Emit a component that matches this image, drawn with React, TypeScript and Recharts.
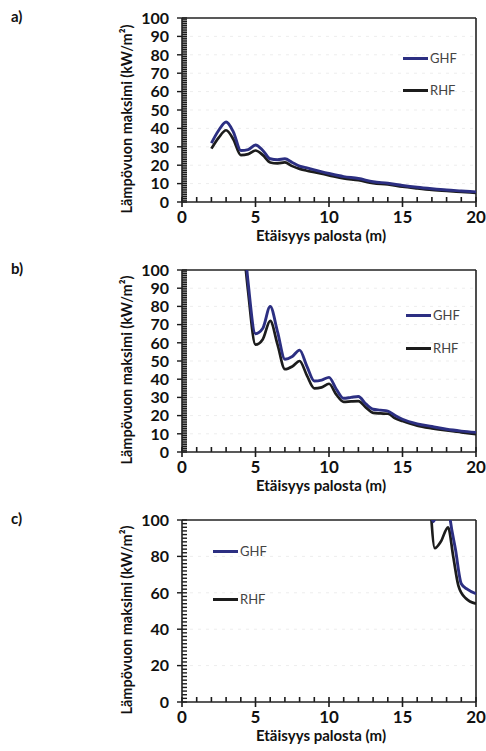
import React from "react";
import { LineChart, Line, XAxis, YAxis, ReferenceLine, Legend, Label } from "recharts";

// distances (m) and peak heat flux (kW/m²) per case
const distA = [2, 2.5, 3, 3.5, 4, 4.5, 5, 5.5, 6, 6.5, 7, 7.5, 8, 8.5, 9, 10, 11, 12, 13, 14, 15, 16, 17, 18, 19, 20];
const ghfA = [32, 39, 43.5, 38, 28, 28.5, 31, 28, 23.5, 23, 23.5, 21.5, 19.5, 18.5, 17.5, 15.5, 13.8, 12.8, 11, 10.2, 9, 8, 7.2, 6.5, 6, 5.5];
const rhfA = [29, 35, 39, 34, 25.5, 26, 28, 25.5, 21.5, 21, 21.5, 19.5, 18, 17, 16.2, 14.5, 12.8, 11.8, 10.2, 9.5, 8.3, 7.4, 6.6, 6, 5.5, 5];

const distB = [4, 4.5, 5, 5.5, 6, 6.5, 7, 7.5, 8, 8.5, 9, 9.5, 10, 10.5, 11, 11.5, 12, 12.5, 13, 13.5, 14, 14.5, 15, 16, 17, 18, 19, 20];
const ghfB = [140, 93, 65, 68, 80, 66, 51, 52.5, 56, 47, 39, 39.5, 41, 34.5, 29.5, 30, 30.5, 26.5, 23.5, 23, 22.5, 20, 18, 15.5, 14, 12.5, 11.5, 10.8];
const rhfB = [130, 88, 59, 62, 72, 59, 45.5, 47, 50, 42, 35, 35.5, 37.5, 31.5, 27.5, 27.8, 28, 24.5, 21.5, 21.2, 21, 18.5, 17, 14.5, 13, 11.8, 10.8, 9.8];

const distGhfC = [16.9, 17.1, 17.3, 17.6, 18, 18.25, 18.6, 19, 19.4, 20];
const ghfC = [104, 99, 103, 115, 118, 100, 84, 65, 62, 59.5];
const distRhfC = [16.9, 17.2, 17.6, 18.1, 18.45, 18.8, 19.3, 20];
const rhfC = [108, 84.5, 88, 96, 80, 64, 57, 54];

const xMajor = [0, 5, 10, 15, 20];
const xTicks = Array.from({ length: 21 }, (_, i) => i);
const yMajorAB = [0, 10, 20, 30, 40, 50, 60, 70, 80, 90, 100];
const yTicksAB = Array.from({ length: 101 }, (_, i) => i);
const yMajorC = [0, 20, 40, 60, 80, 100];
const yTicksC = Array.from({ length: 51 }, (_, i) => i * 2);

const GHF_COLOR = "#2c2f82";
const RHF_COLOR = "#1c1c1c";
const AXIS = "#222";
const FONT = "Lato, 'Open Sans', sans-serif";

const pts = (xs: number[], ys: number[]) => xs.map((x, i) => ({ x, y: ys[i] }));

const makeYTick = (majors: number[]) => (props: any) => {
  const { x, y, payload } = props;
  if (!majors.includes(payload.value)) return <g />;
  return (
    <text x={x} y={y} dy="0.36em" textAnchor="end" fontFamily={FONT} fontWeight={700} fontSize={16} fill="#111">
      {payload.value}
    </text>
  );
};

const renderXTick = (props: any) => {
  const { x, y, payload } = props;
  if (!xMajor.includes(payload.value)) return <g />;
  return (
    <text x={x} y={y} dy="0.36em" textAnchor="middle" fontFamily={FONT} fontWeight={700} fontSize={17} fill="#111">
      {payload.value}
    </text>
  );
};

// short tick marks drawn on reference lines placed through the axis scales
const yTickShape = (major: boolean) => (p: any) => {
  const x0 = Math.min(Number(p.x1), Number(p.x2));
  const y0 = Number(p.y1);
  return <rect x={major ? x0 - 5 : x0} y={y0 - 0.7} width={major ? 10 : 5} height={1.4} fill="#1a1a1a" />;
};
const xTickShape = (major: boolean) => (p: any) => {
  const x0 = Number(p.x1);
  const yb = Math.max(Number(p.y1), Number(p.y2));
  return <rect x={x0 - 0.8} y={yb - 5} width={1.6} height={major ? 10 : 5} fill="#1a1a1a" />;
};

const legendContent = (gap: number) => (props: any) => (
  <div style={{ display: "flex", flexDirection: "column", gap }}>
    {(props.payload || []).map((p: any) => (
      <div key={p.value} style={{ display: "flex", alignItems: "center", height: 16 }}>
        <span style={{ display: "inline-block", width: 25, height: 3, background: p.color }} />
        <span style={{ fontFamily: FONT, fontSize: 13, color: "#444", marginLeft: 2 }}>{p.value}</span>
      </div>
    ))}
  </div>
);

type PanelProps = {
  top: number;
  tag: string;
  plotH: number;
  ghf: { x: number; y: number }[];
  rhf: { x: number; y: number }[];
  yTicks: number[];
  yMajor: number[];
  legend: { left: number; top: number; gap: number };
};

const Panel = ({ top, tag, plotH, ghf, rhf, yTicks, yMajor, legend }: PanelProps) => {
  const H = 250;
  const xAxisH = H - 18 - plotH;
  return (
    <div style={{ position: "absolute", left: 0, top, width: 486, height: H }}>
      <div style={{ position: "absolute", left: 11, top: 7, fontFamily: FONT, fontWeight: 700, fontSize: 15, color: "#111" }}>
        {tag}
      </div>
      <LineChart width={486} height={H} margin={{ top: 18, right: 10, bottom: 0, left: 0 }}>
        {yMajor.slice(1, -1).map((v) => (
          <ReferenceLine key={`g${v}`} y={v} stroke="#ededed" strokeDasharray="3 5" />
        ))}
        <XAxis
          type="number"
          dataKey="x"
          domain={[0, 20]}
          ticks={xTicks}
          interval={0}
          allowDataOverflow
          tickSize={0}
          tickMargin={15}
          tick={renderXTick}
          height={xAxisH}
          axisLine={{ stroke: AXIS, strokeWidth: 1.6 }}
        >
          <Label
            content={(p: any) => {
              const vb = p.viewBox;
              return (
                <text x={vb.x + vb.width / 2 - 8} y={vb.y + 34} dy="0.36em" textAnchor="middle" fontFamily={FONT} fontWeight={700} fontSize={15} fill="#111">
                  Etäisyys palosta (m)
                </text>
              );
            }}
          />
        </XAxis>
        <YAxis
          type="number"
          domain={[0, 100]}
          ticks={yTicks}
          interval={0}
          allowDataOverflow
          tickSize={0}
          tickMargin={13}
          tick={makeYTick(yMajor)}
          width={182}
          axisLine={{ stroke: AXIS, strokeWidth: 1.6 }}
        >
          <Label
            content={(p: any) => {
              const vb = p.viewBox;
              const cx = 127;
              const cy = vb.y + vb.height / 2 + 9;
              return (
                <text x={cx} y={cy} dy="0.36em" textAnchor="middle" transform={`rotate(-90 ${cx} ${cy})`} fontFamily={FONT} fontWeight={700} fontSize={14.5} fill="#111">
                  Lämpövuon maksimi (kW/m²)
                </text>
              );
            }}
          />
        </YAxis>
        {yTicks.map((v) => (
          <ReferenceLine key={`yt${v}`} y={v} ifOverflow="visible" stroke={AXIS} shape={yTickShape(yMajor.includes(v))} />
        ))}
        {xTicks.map((v) => (
          <ReferenceLine key={`xt${v}`} x={v} ifOverflow="visible" stroke={AXIS} shape={xTickShape(xMajor.includes(v))} />
        ))}
        <ReferenceLine y={100} stroke={AXIS} strokeWidth={1.6} />
        <ReferenceLine x={20} stroke={AXIS} strokeWidth={1.6} />
        <Line data={rhf} dataKey="y" name="RHF" type="monotone" stroke={RHF_COLOR} strokeWidth={2.7} dot={false} activeDot={false} isAnimationActive={false} legendType="line" />
        <Line data={ghf} dataKey="y" name="GHF" type="monotone" stroke={GHF_COLOR} strokeWidth={2.9} dot={false} activeDot={false} isAnimationActive={false} legendType="line" />
        <Legend
          layout="vertical"
          align="center"
          verticalAlign="middle"
          itemSorter={(item: any) => (item.value === "GHF" ? 0 : 1)}
          wrapperStyle={{ left: legend.left, top: legend.top, width: "auto", height: "auto" }}
          content={legendContent(legend.gap)}
        />
      </LineChart>
    </div>
  );
};

export default function App() {
  return (
    <div style={{ position: "absolute", left: 0, top: 0, width: 486, height: 751, background: "#fff" }}>
      <Panel top={0} tag="a)" plotH={184} ghf={pts(distA, ghfA)} rhf={pts(distA, rhfA)} yTicks={yTicksAB} yMajor={yMajorAB} legend={{ left: 403, top: 50, gap: 16 }} />
      <Panel top={252} tag="b)" plotH={182} ghf={pts(distB, ghfB)} rhf={pts(distB, rhfB)} yTicks={yTicksAB} yMajor={yMajorAB} legend={{ left: 406, top: 55, gap: 17 }} />
      <Panel top={502} tag="c)" plotH={182} ghf={pts(distGhfC, ghfC)} rhf={pts(distRhfC, rhfC)} yTicks={yTicksC} yMajor={yMajorC} legend={{ left: 213, top: 41, gap: 32 }} />
    </div>
  );
}
